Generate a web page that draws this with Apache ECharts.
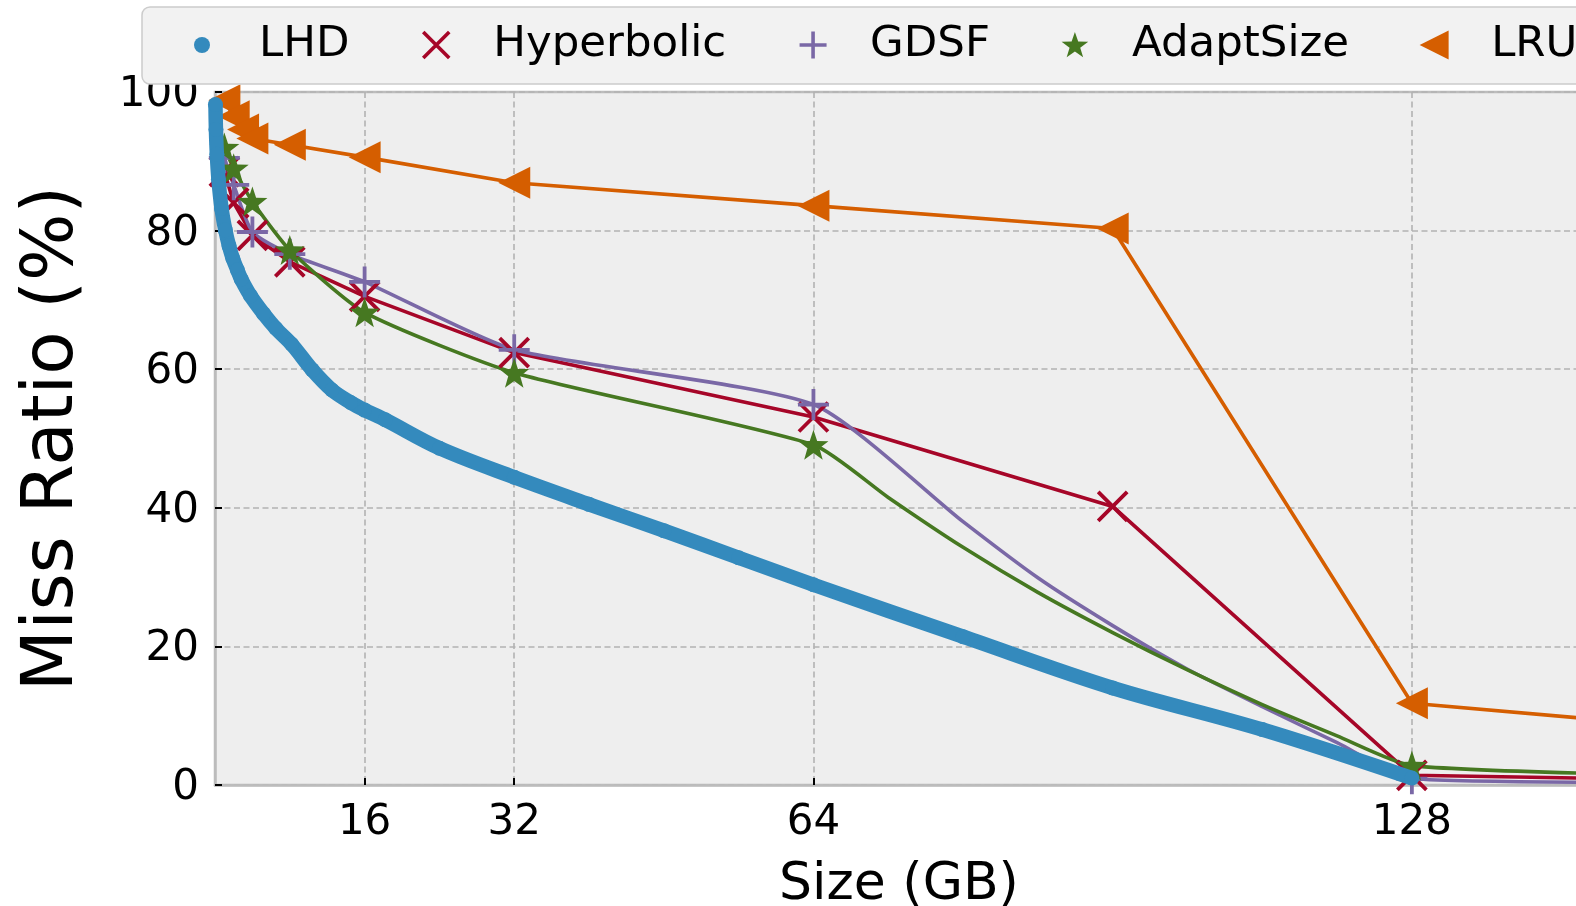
<!DOCTYPE html>
<html><head><meta charset="utf-8">
<script src="https://cdn.jsdelivr.net/npm/echarts@6/dist/echarts.min.js"></script>
<style>html,body{margin:0;padding:0;background:#fff}#c{width:1576px;height:906px}</style>
</head><body><div id="c"></div>
<script>
// ---- data ----
const seriesNames = ['LHD', 'Hyperbolic', 'GDSF', 'AdaptSize', 'LRU'];

const lhdSize = [0.05, 0.1, 0.2, 0.37, 0.7, 1.1, 1.5, 1.9, 2.4, 2.8, 3.8, 5.2, 6.5, 8.2, 10.4, 12.5, 14.5, 16, 18.2, 24, 32, 40, 48, 56, 64, 80, 96, 112, 128];
const lhdMiss = [98.2, 94.6, 91.0, 87.4, 83.2, 80.1, 77.8, 76.0, 74.3, 73.0, 70.6, 68.0, 65.9, 63.6, 59.9, 57.0, 55.2, 54.1, 52.7, 48.6, 44.4, 40.5, 36.7, 32.8, 28.9, 21.4, 14.0, 8.0, 1.0];

const hypSize = [1, 2, 4, 8, 16, 32, 64, 96, 128, 160];
const hypMiss = [88.5, 84.0, 79.3, 75.5, 70.5, 62.4, 53.1, 40.2, 1.4, 0.7];

const gdsfSize = [1, 2, 4, 8, 16, 32, 64, 80, 88, 96, 104, 112, 120, 128, 160];
const gdsfMiss = [90.5, 86.6, 79.8, 76.6, 72.6, 62.8, 54.9, 38.0, 29.9, 23.0, 16.7, 11.3, 6.1, 0.9, 0.35];
const gdsfMarked = [1, 2, 4, 8, 16, 32, 64, 128, 160];

const adaptSizeX = [1, 2, 4, 8, 16, 32, 64, 72, 80, 88, 96, 104, 112, 120, 128, 160];
const adaptMiss = [92.0, 89.0, 84.2, 77.2, 68.2, 59.5, 49.1, 41.5, 34.3, 27.8, 22.0, 16.6, 11.6, 7.1, 2.8, 1.3];
const adaptMarked = [1, 2, 4, 8, 16, 32, 64, 128, 160];

const lruSize = [1, 2, 3, 4, 8, 16, 32, 64, 96, 128, 160];
const lruMiss = [98.8, 96.5, 94.6, 93.3, 92.4, 90.6, 86.9, 83.6, 80.3, 11.8, 8.0];

const xTickValues = [16, 32, 64, 128];
const xMin = 0, xMax = 146.3;
const yMin = 0, yMax = 100, yStep = 20;

// ---- helpers ----
const zip = (xs, ys) => xs.map((x, i) => [x, ys[i]]);
function starPath(cx, cy, R, r) {
  let d = '';
  for (let k = 0; k < 10; k++) {
    const a = (-90 + 36 * k) * Math.PI / 180;
    const rr = k % 2 === 0 ? R : r;
    d += (k === 0 ? 'M' : 'L') + (cx + rr * Math.cos(a)).toFixed(3) + ',' + (cy + rr * Math.sin(a)).toFixed(3) + ' ';
  }
  return d + 'Z';
}
const C = { lhd: '#348ABD', hyp: '#A60628', gdsf: '#7A68A6', adapt: '#467821', lru: '#D55E00' };
const SYM = {
  x: 'path://M0,0 L10,10 M10,0 L0,10',
  plus: 'path://M5,0 L5,10 M0,5 L10,5',
  star: 'path://' + starPath(10, 10, 10, 4.0),
  tri: 'path://M0,10 L20,0 L20,20 Z'
};
const PAD = 'M0,0 M30,30 ';
const LEG = {
  dot: 'path://' + PAD + 'M23,15 A8,8 0 1 1 7,15 A8,8 0 1 1 23,15 Z',
  x: 'path://' + PAD + 'M2,2 L28,28 M28,2 L2,28',
  plus: 'path://' + PAD + 'M15,1.5 L15,28.5 M1.5,15 L28.5,15',
  star: 'path://' + PAD + starPath(15, 16, 14, 5.6),
  tri: 'path://' + PAD + 'M0.5,15 L29.5,0.5 L29.5,29.5 Z'
};
const FONT = 'DejaVu Sans';

const chart = echarts.init(document.getElementById('c'), null, { renderer: 'canvas' });
chart.setOption({
  animation: false,
  backgroundColor: '#ffffff',
  textStyle: { fontFamily: FONT },
  grid: {
    left: 215, top: 92, right: -7, bottom: 121,
    show: true, backgroundColor: '#eeeeee', borderColor: '#bcbcbc', borderWidth: 2.5,
    containLabel: false, outerBoundsMode: 'none'
  },
  legend: {
    left: 142, top: 7, width: 1700, z: 50, zlevel: 1,
    orient: 'horizontal',
    padding: [14, 30, 15, 45],
    itemWidth: 104, itemHeight: 30, itemGap: 70,
    backgroundColor: '#f2f2f2', borderColor: '#cccccc', borderWidth: 1.5, borderRadius: 8,
    selectedMode: false,
    textStyle: { fontFamily: FONT, fontSize: 43.5, color: '#000', lineHeight: 48 },
    data: [
      { name: seriesNames[0], icon: LEG.dot, itemStyle: { color: C.lhd, borderWidth: 0 } },
      { name: seriesNames[1], icon: LEG.x, itemStyle: { color: C.hyp, borderColor: C.hyp, borderWidth: 3.6 } },
      { name: seriesNames[2], icon: LEG.plus, itemStyle: { color: C.gdsf, borderColor: C.gdsf, borderWidth: 3.6 } },
      { name: seriesNames[3], icon: LEG.star, itemStyle: { color: C.adapt, borderWidth: 0 } },
      { name: seriesNames[4], icon: LEG.tri, itemStyle: { color: C.lru, borderWidth: 0 } }
    ]
  },
  xAxis: {
    type: 'value', min: xMin, max: xMax,
    name: 'Size (GB)', nameLocation: 'middle', nameGap: 74,
    nameTextStyle: { fontFamily: FONT, fontSize: 52, color: '#000' },
    axisLine: { show: true, onZero: false, lineStyle: { color: '#bcbcbc', width: 2.5 } },
    axisTick: { show: true, inside: true, length: 7, customValues: xTickValues, lineStyle: { color: '#000', width: 2 } },
    axisLabel: { show: true, customValues: xTickValues, margin: 17, fontFamily: FONT, fontSize: 42, color: '#000' },
    splitLine: { show: true, lineStyle: { color: '#b2b2b2', width: 1.6, type: [6, 3.5] } }
  },
  yAxis: {
    type: 'value', min: yMin, max: yMax, interval: yStep,
    name: 'Miss Ratio (%)', nameLocation: 'middle', nameGap: 126,
    nameTextStyle: { fontFamily: FONT, fontSize: 71, color: '#000' },
    axisLine: { show: true, lineStyle: { color: '#bcbcbc', width: 2.5 } },
    axisTick: { show: true, inside: true, length: 7, lineStyle: { color: '#000', width: 2 } },
    axisLabel: { show: true, margin: 16, verticalAlign: 'top', lineHeight: 6, fontFamily: FONT, fontSize: 42, color: '#000', showMinLabel: true, showMaxLabel: true },
    splitLine: { show: true, lineStyle: { color: '#b2b2b2', width: 1.6, type: [6, 3.5] } }
  },
  series: [
    {
      name: seriesNames[0], type: 'line', z: 5, data: zip(lhdSize, lhdMiss),
      smooth: 0.35, showAllSymbol: true, symbol: 'circle', symbolSize: 15,
      lineStyle: { color: C.lhd, width: 14.5, cap: 'butt' },
      itemStyle: { color: C.lhd, borderWidth: 0 }
    },
    {
      name: seriesNames[1], type: 'line', z: 2, data: zip(hypSize, hypMiss),
      showAllSymbol: true, symbol: SYM.x, symbolSize: 29,
      lineStyle: { color: C.hyp, width: 3.6 },
      itemStyle: { color: C.hyp, borderColor: C.hyp, borderWidth: 3.8 }
    },
    {
      name: seriesNames[2], type: 'line', z: 2, data: zip(gdsfSize, gdsfMiss),
      smooth: 0.2,
      showAllSymbol: true, symbol: SYM.plus,
      symbolSize: (v) => gdsfMarked.includes(v[0]) ? 31 : 0,
      lineStyle: { color: C.gdsf, width: 3.6 },
      itemStyle: { color: C.gdsf, borderColor: C.gdsf, borderWidth: 3.8 }
    },
    {
      name: seriesNames[3], type: 'line', z: 2, data: zip(adaptSizeX, adaptMiss),
      smooth: 0.2,
      showAllSymbol: true, symbol: SYM.star,
      symbolSize: (v) => adaptMarked.includes(v[0]) ? 30 : 0,
      lineStyle: { color: C.adapt, width: 3.6 },
      itemStyle: { color: C.adapt, borderWidth: 0 }
    },
    {
      name: seriesNames[4], type: 'line', z: 2, data: zip(lruSize, lruMiss),
      showAllSymbol: true, symbol: SYM.tri, symbolSize: 32,
      lineStyle: { color: C.lru, width: 3.6 },
      itemStyle: { color: C.lru, borderWidth: 0 }
    }
  ]
});
</script>
</body></html>
